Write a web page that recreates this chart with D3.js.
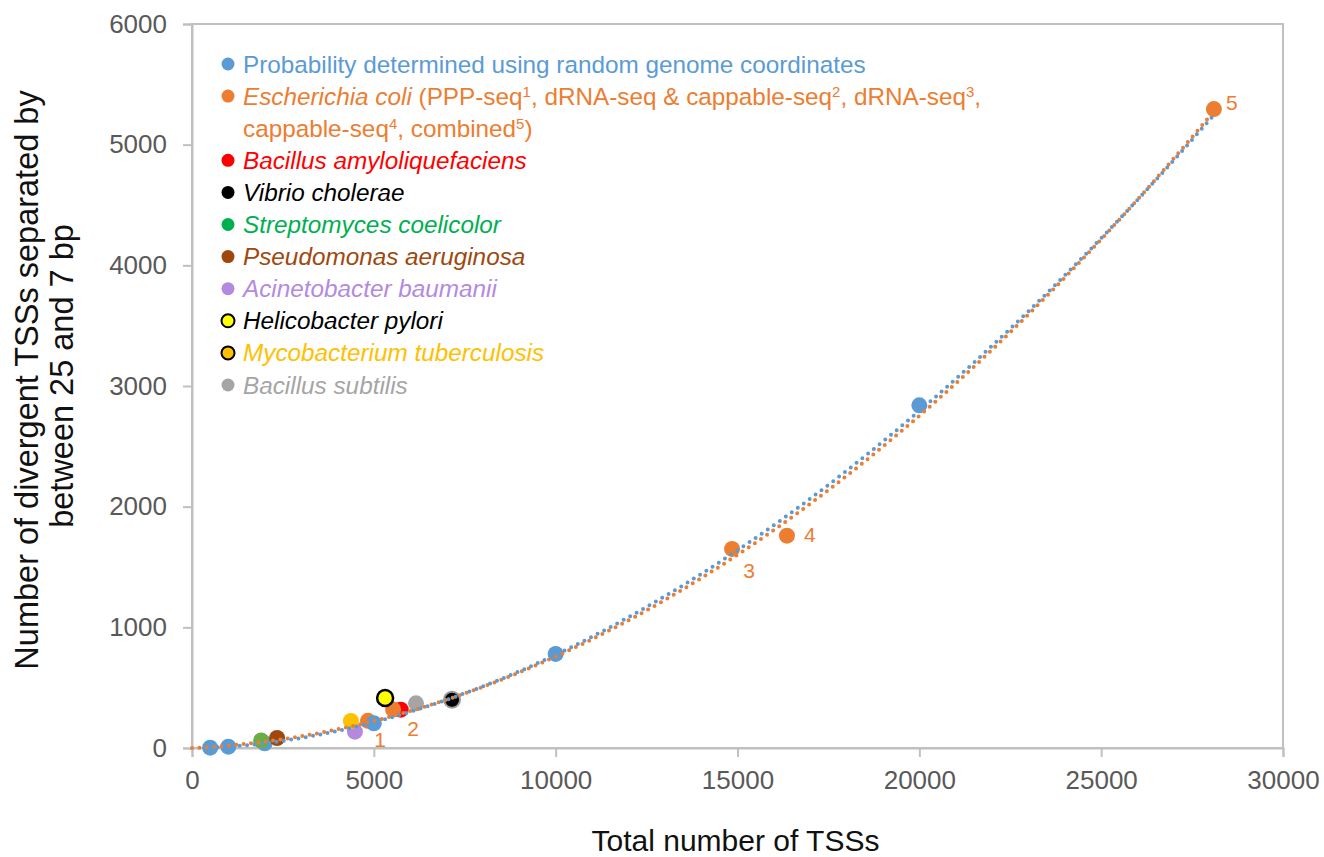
<!DOCTYPE html>
<html>
<head>
<meta charset="utf-8">
<script src="https://cdn.jsdelivr.net/npm/d3@7"></script>
<style>
  body { margin: 0; background: #fff; }
  svg text { font-family: "Liberation Sans", Arial, sans-serif; }
</style>
</head>
<body>
<div id="chart"></div>
<script>
// random genome coordinates (blue)
const randomX = [500, 1000, 2000, 5000, 10000, 20000];
const randomY = [3, 11, 39, 205, 780, 2840];

// E. coli datasets (orange), numbered 1-5
const ecoliX = [4840, 5530, 14850, 16360, 28100];
const ecoliY = [225, 320, 1650, 1760, 5295];
const ecoliLabels = ['1', '2', '3', '4', '5'];

// other organisms
const organisms = ['Bacillus amyloliquefaciens', 'Vibrio cholerae', 'Streptomyces coelicolor',
  'Pseudomonas aeruginosa', 'Acinetobacter baumanii', 'Helicobacter pylori',
  'Mycobacterium tuberculosis', 'Bacillus subtilis'];
const organismX = [5740, 7150, 1900, 2340, 4480, 5310, 4370, 6160];
const organismY = [318, 400, 62, 83, 135, 414, 224, 370];

const xTicks = [0, 5000, 10000, 15000, 20000, 25000, 30000];
const yTicks = [0, 1000, 2000, 3000, 4000, 5000, 6000];

document.addEventListener('DOMContentLoaded', function () {
    const width = 1324, height = 857;
    const margin = { top: 24, right: 41, bottom: 109, left: 192 };
    const plotW = width - margin.left - margin.right;
    const plotH = height - margin.top - margin.bottom;

    const blue = '#5B9BD5', orange = '#ED7D31';
    const orgColor = {
        'Bacillus amyloliquefaciens': '#FF0000',
        'Vibrio cholerae': '#000000',
        'Streptomyces coelicolor': '#00B050',
        'Pseudomonas aeruginosa': '#9E480E',
        'Acinetobacter baumanii': '#B48AE0',
        'Helicobacter pylori': '#FFFF00',
        'Mycobacterium tuberculosis': '#FFC000',
        'Bacillus subtilis': '#A5A5A5'
    };
    const orgStroke = {
        'Vibrio cholerae': '#9a9a9a',
        'Helicobacter pylori': '#000000'
    };
    const orgText = Object.assign({}, orgColor, { 'Helicobacter pylori': '#000000' });

    const svg = d3.select('#chart').append('svg')
        .attr('width', width)
        .attr('height', height);

    const g = svg.append('g')
        .attr('transform', `translate(${margin.left},${margin.top})`);

    const x = d3.scaleLinear().domain([0, 30000]).range([0, plotW]);
    const y = d3.scaleLinear().domain([0, 6000]).range([plotH, 0]);

    // frame
    g.append('rect')
        .attr('width', plotW).attr('height', plotH)
        .attr('fill', 'none').attr('stroke', '#c0c0c0').attr('stroke-width', 2);

    const xAxis = g.append('g')
        .attr('transform', `translate(0,${plotH})`)
        .call(d3.axisBottom(x).tickValues(xTicks).tickFormat(d3.format('d')).tickSize(9).tickPadding(14));
    const yAxis = g.append('g')
        .call(d3.axisLeft(y).tickValues(yTicks).tickFormat(d3.format('d')).tickSize(9).tickPadding(16));
    [xAxis, yAxis].forEach(a => {
        a.select('.domain').attr('stroke', '#c0c0c0').attr('stroke-width', 2);
        a.selectAll('.tick line').attr('stroke', '#c0c0c0').attr('stroke-width', 2);
        a.selectAll('.tick text').attr('fill', '#595959')
            .style('font-size', '26px').style('font-family', '"Liberation Sans", Arial, sans-serif');
    });

    // axis titles
    svg.append('text')
        .attr('x', margin.left + plotW / 2 - 2).attr('y', 851)
        .attr('text-anchor', 'middle').style('font-size', '30px').attr('fill', '#111')
        .text('Total number of TSSs');
    const yTitle = svg.append('text')
        .attr('transform', 'translate(0,380) rotate(-90)')
        .attr('text-anchor', 'middle').style('font-size', '32.5px').attr('fill', '#111');
    yTitle.append('tspan').attr('x', 0).attr('y', 38).text('Number of divergent TSSs separated by');
    yTitle.append('tspan').attr('x', 4).attr('y', 73).text('between 25 and 7 bp');

    // points, drawn in the layering seen in the figure
    const r = 8;
    function dot(px, py, fill, stroke, sw) {
        g.append('circle')
            .attr('cx', x(px)).attr('cy', y(py)).attr('r', r)
            .attr('fill', fill)
            .attr('stroke', stroke || 'none')
            .attr('stroke-width', sw || 0);
    }
    const orgIndex = name => organisms.indexOf(name);
    ['Acinetobacter baumanii', 'Bacillus amyloliquefaciens', 'Mycobacterium tuberculosis'].forEach(n => {
        const i = orgIndex(n);
        dot(organismX[i], organismY[i], orgColor[n], orgStroke[n], 1);
    });
    ecoliX.forEach((v, i) => dot(v, ecoliY[i], orange));
    randomX.forEach((v, i) => dot(v, randomY[i], blue));
    ['Streptomyces coelicolor', 'Pseudomonas aeruginosa', 'Helicobacter pylori', 'Bacillus subtilis', 'Vibrio cholerae'].forEach(n => {
        const i = orgIndex(n);
        const fill = n === 'Streptomyces coelicolor' ? '#6AAD45' : orgColor[n];
        dot(organismX[i], organismY[i], fill, orgStroke[n], n === 'Helicobacter pylori' ? 2.5 : 2);
    });

    // trendlines fitted to the points: power law (random coords), quadratic through 0 (E. coli)
    function powerFit(xs, ys) {
        const lx = xs.map(Math.log), ly = ys.map(Math.log);
        const mx = d3.mean(lx), my = d3.mean(ly);
        const k = d3.sum(lx, (v, i) => (v - mx) * (ly[i] - my)) / d3.sum(lx, v => (v - mx) * (v - mx));
        const A = Math.exp(my - k * mx);
        return v => A * Math.pow(v, k);
    }
    function quadFit0(xs, ys) {
        // y = a*x^2 + b*x, least squares
        const s4 = d3.sum(xs, v => v ** 4), s3 = d3.sum(xs, v => v ** 3), s2 = d3.sum(xs, v => v ** 2);
        const t2 = d3.sum(xs, (v, i) => v * v * ys[i]), t1 = d3.sum(xs, (v, i) => v * ys[i]);
        const det = s4 * s2 - s3 * s3;
        const a = (t2 * s2 - s3 * t1) / det;
        const b = (s4 * t1 - s3 * t2) / det;
        return v => a * v * v + b * v;
    }
    const blueFn = powerFit(randomX, randomY);
    const orangeFn = quadFit0(ecoliX, ecoliY);

    const line = d3.line().x(d => x(d[0])).y(d => y(Math.max(0, d[1])));
    function trend(fn, x0, x1, color) {
        const pts = d3.range(x0, x1, 50).concat([x1]).map(v => [v, fn(v)]);
        g.append('path')
            .datum(pts)
            .attr('d', line)
            .attr('fill', 'none')
            .attr('stroke', color)
            .attr('stroke-width', 4)
            .attr('stroke-linecap', 'round')
            .attr('stroke-dasharray', '0 7.4');
    }
    trend(orangeFn, 0, d3.max(ecoliX), orange);
    trend(blueFn, d3.min(randomX), d3.max(ecoliX), blue);

    // numbered labels next to E. coli points
    const labelOffset = [[12, 26], [20, 27], [17, 29], [23, 6], [18, 1]];
    ecoliLabels.forEach((t, i) => {
        g.append('text')
            .attr('x', x(ecoliX[i]) + labelOffset[i][0])
            .attr('y', y(ecoliY[i]) + labelOffset[i][1])
            .attr('text-anchor', 'middle')
            .attr('fill', orange)
            .style('font-size', '21px')
            .text(t);
    });

    // legend
    const legend = svg.append('g').attr('transform', 'translate(228,64)');
    const rowH = 32.1;
    function legendDot(row, fill, stroke, sw) {
        legend.append('circle')
            .attr('cx', 0).attr('cy', row * rowH).attr('r', 6.5)
            .attr('fill', fill).attr('stroke', stroke || 'none').attr('stroke-width', sw || 0);
    }
    function legendText(row, color) {
        return legend.append('text')
            .attr('x', 15).attr('y', row * rowH + 8.5)
            .attr('fill', color).style('font-size', '24.3px');
    }
    legendDot(0, blue);
    legendText(0, blue).text('Probability determined using random genome coordinates');

    legendDot(1, orange);
    const ec = legendText(1, orange);
    ec.append('tspan').style('font-style', 'italic').text('Escherichia coli');
    const sup = (el, s) => el.append('tspan').attr('baseline-shift', 'super').style('font-size', '15px').text(s);
    ec.append('tspan').text(' (PPP-seq');
    sup(ec, '1');
    ec.append('tspan').text(', dRNA-seq & cappable-seq');
    sup(ec, '2');
    ec.append('tspan').text(', dRNA-seq');
    sup(ec, '3');
    ec.append('tspan').text(',');
    const ec2 = legendText(2, orange);
    ec2.append('tspan').text('cappable-seq');
    sup(ec2, '4');
    ec2.append('tspan').text(', combined');
    sup(ec2, '5');
    ec2.append('tspan').text(')');

    organisms.forEach((n, i) => {
        const row = i + 3;
        legendDot(row, orgColor[n], n === 'Helicobacter pylori' || n === 'Mycobacterium tuberculosis' ? '#000' : null, 2);
        legendText(row, orgText[n]).style('font-style', 'italic').text(n);
    });
});
</script>
</body>
</html>
